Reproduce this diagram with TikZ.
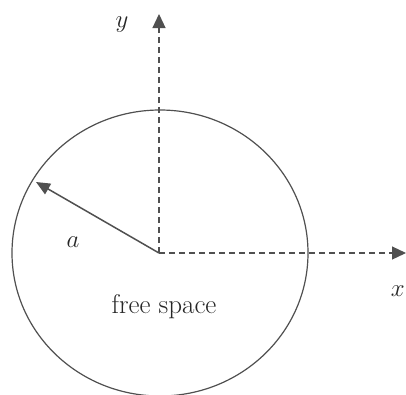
\documentclass[tikz,border=0pt]{standalone}
\usetikzlibrary{arrows.meta}
\definecolor{ink}{HTML}{505050}
\begin{document}
\begin{tikzpicture}[x=1pt,y=-1pt,
  axis/.style={draw=ink, line width=1.2pt, dash pattern=on 6pt off 4pt, -{Triangle[length=14pt,width=13pt]}},
  rim/.style={draw=ink, line width=1.2pt},
  radius/.style={draw=ink, line width=1.5pt, -{Triangle[length=14pt,width=12pt]}},
  lbl/.style={text=black!85, inner sep=0pt, font=\fontsize{27}{31}\selectfont}]
\useasboundingbox (0,0) rectangle (406,394);
\fill[white] (0,0) rectangle (406,394);
\coordinate (C) at (160,253);
\coordinate (O) at (159,253);
\coordinate (ytip) at (159,14);
\coordinate (xtip) at (406,253);
\coordinate (rtip) at (36,182);
\draw[rim] (C) ellipse [x radius=148, y radius=143];
\draw[axis] (O) -- (ytip);
\draw[axis] (O) -- (xtip);
\draw[radius] (O) -- (rtip);
\node[lbl] (ylab) at (122,25) {$y$};
\node[lbl, anchor=east] (xlab) at (405,291) {$x$};
\node[lbl] (alab) at (73,242) {$a$};
\node[lbl] (fs) at (164,307) {free space};
\end{tikzpicture}
\end{document}
